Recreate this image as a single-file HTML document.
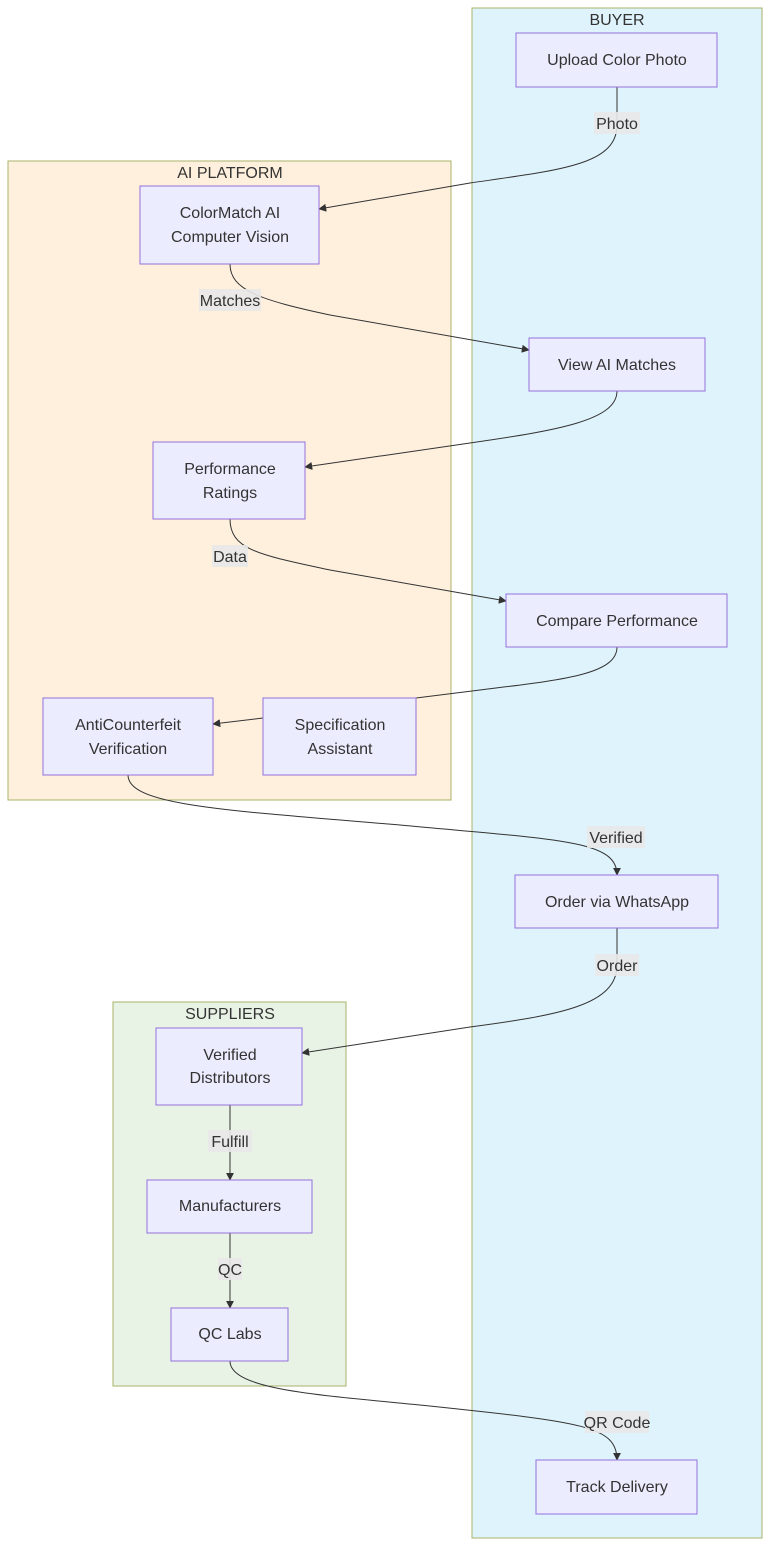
<!DOCTYPE html>
<html><head><meta charset="utf-8"><style>
html,body{margin:0;padding:0;background:#fff;}
svg{display:block;font-family:"Liberation Sans","DejaVu Sans",sans-serif;}
.n{fill:#ececff;stroke:#9370db;stroke-width:1;}
.t{font-size:16px;fill:#333;text-anchor:middle;}
.ct{font-size:16px;fill:#333;text-anchor:middle;}
.e{fill:none;stroke:#333;stroke-width:1;}
.lb{fill:#e8e8e8;opacity:0.9;}
</style></head><body>
<svg width="770" height="1548" viewBox="0 0 770 1548" xmlns="http://www.w3.org/2000/svg">
<defs><marker id="a" viewBox="0 0 10 10" refX="9" refY="5" markerWidth="8" markerHeight="8" orient="auto"><path d="M0,0 L10,5 L0,10 z" fill="#333"/></marker></defs>
<rect x="472" y="8" width="290" height="1530" fill="#dff3fc" stroke="#aab36a"/>
<text class="ct" x="617" y="25">BUYER</text>
<rect x="8" y="161" width="443" height="639" fill="#fff0de" stroke="#aab36a"/>
<text class="ct" x="230" y="178">AI PLATFORM</text>
<rect x="113" y="1002" width="233" height="384" fill="#e8f3e6" stroke="#aab36a"/>
<text class="ct" x="230" y="1019">SUPPLIERS</text>

<path class="e" d="M617,87 L617,125 C617,165 560,170 470,183 L319,209" marker-end="url(#a)"/>
<path class="e" d="M230,264 C230,290 260,300 330,315 L529,350" marker-end="url(#a)"/>
<path class="e" d="M617,391 C617,420 560,430 470,443 L305,467" marker-end="url(#a)"/>
<path class="e" d="M230,519 C230,550 260,555 330,570 L506,601" marker-end="url(#a)"/>
<path class="e" d="M617,647 C617,675 560,680 480,690 L416,698"/>
<path class="e" d="M263,718 L213,724" marker-end="url(#a)"/>
<path class="e" d="M128,775 C128,805 220,810 400,825 C560,840 617,840 617,875" marker-end="url(#a)"/>
<path class="e" d="M617,928 L617,965 C617,1005 560,1015 470,1027 L302,1053" marker-end="url(#a)"/>
<path class="e" d="M230,1105 L230,1180" marker-end="url(#a)"/>
<path class="e" d="M230,1233 L230,1308" marker-end="url(#a)"/>
<path class="e" d="M230,1361 C230,1390 320,1395 420,1405 C580,1422 617,1425 617,1460" marker-end="url(#a)"/>

<rect class="lb" x="594" y="112" width="46" height="22"/><text class="t" x="617" y="129">Photo</text>
<rect class="lb" x="199" y="289" width="62" height="22"/><text class="t" x="230" y="306">Matches</text>
<rect class="lb" x="212" y="545" width="36" height="22"/><text class="t" x="230" y="562">Data</text>
<rect class="lb" x="587" y="826" width="58" height="22"/><text class="t" x="616" y="843">Verified</text>
<rect class="lb" x="595" y="954" width="44" height="22"/><text class="t" x="617" y="971">Order</text>
<rect class="lb" x="208" y="1130" width="44" height="22"/><text class="t" x="230" y="1147">Fulfill</text>
<rect class="lb" x="218" y="1258" width="24" height="22"/><text class="t" x="230" y="1275">QC</text>
<rect class="lb" x="585" y="1411" width="64" height="22"/><text class="t" x="617" y="1428">QR Code</text>

<rect class="n" x="516" y="33" width="201" height="54"/><text class="t" x="617" y="65">Upload Color Photo</text>
<rect class="n" x="140" y="186" width="179" height="78"/><text class="t" x="230" y="218">ColorMatch AI</text><text class="t" x="230" y="242">Computer Vision</text>
<rect class="n" x="529" y="338" width="176" height="53"/><text class="t" x="617" y="370">View AI Matches</text>
<rect class="n" x="153" y="442" width="152" height="77"/><text class="t" x="230" y="474">Performance</text><text class="t" x="230" y="498">Ratings</text>
<rect class="n" x="506" y="594" width="221" height="53"/><text class="t" x="617" y="626">Compare Performance</text>
<rect class="n" x="43" y="698" width="170" height="77"/><text class="t" x="128" y="730">AntiCounterfeit</text><text class="t" x="128" y="754">Verification</text>
<rect class="n" x="263" y="698" width="153" height="77"/><text class="t" x="340" y="730">Specification</text><text class="t" x="340" y="754">Assistant</text>
<rect class="n" x="515" y="875" width="203" height="53"/><text class="t" x="617" y="907">Order via WhatsApp</text>
<rect class="n" x="156" y="1028" width="146" height="77"/><text class="t" x="230" y="1060">Verified</text><text class="t" x="230" y="1083">Distributors</text>
<rect class="n" x="147" y="1180" width="165" height="53"/><text class="t" x="230" y="1211">Manufacturers</text>
<rect class="n" x="171" y="1308" width="117" height="53"/><text class="t" x="230" y="1339">QC Labs</text>
<rect class="n" x="536" y="1460" width="161" height="54"/><text class="t" x="617" y="1492">Track Delivery</text>
</svg>
</body></html>
